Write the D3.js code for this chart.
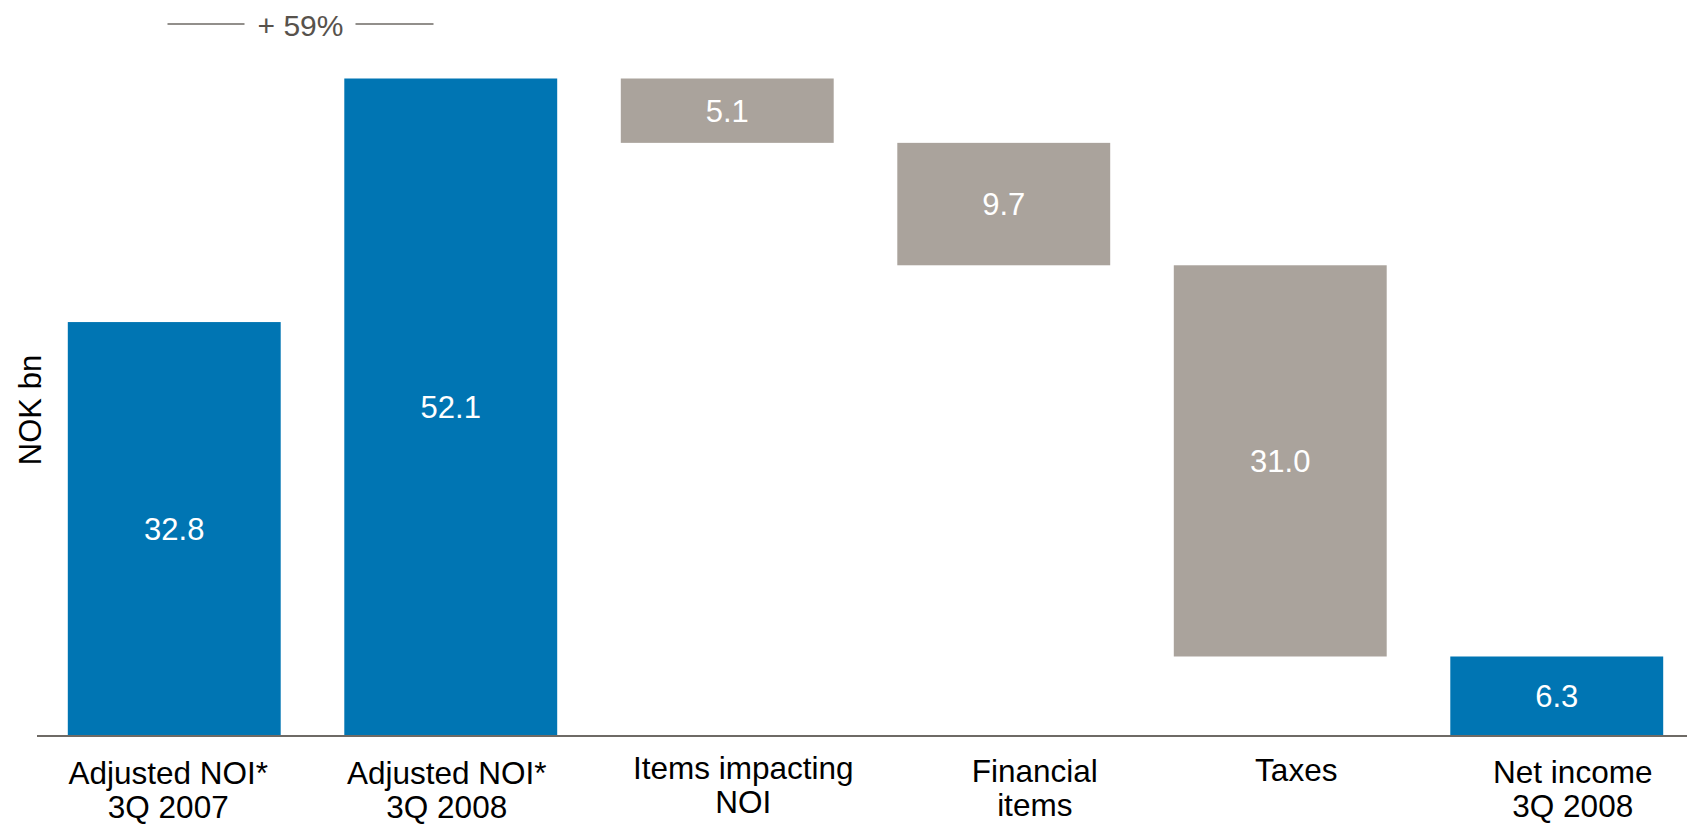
<!DOCTYPE html>
<html>
<head>
<meta charset="utf-8">
<script src="https://cdn.jsdelivr.net/npm/d3@7"></script>
<style>
  html, body { margin: 0; padding: 0; background: #fff; }
  svg { display: block; font-family: "Liberation Sans", Arial, sans-serif; }
</style>
</head>
<body>
<div id="chart"></div>
<script>
// ------------- data ---------------------------
var categories = [
    ["Adjusted NOI*", "3Q 2007"],
    ["Adjusted NOI*", "3Q 2008"],
    ["Items impacting", "NOI"],
    ["Financial", "items"],
    ["Taxes"],
    ["Net income", "3Q 2008"]
];
var values = [32.8, 52.1, -5.1, -9.7, -31.0, 6.3];
var kinds = ["total", "total", "delta", "delta", "delta", "total"];
var growthLabel = "+ 59%";
var unitLabel = "NOK bn";

var width = 1687;
var height = 825;
var baseY = 736;

// the text boxes under the bars are not all centred on their bar
var labelShiftX = [-6, -4, 16, 31, 16, 16];
var labelShiftY = [1, 1, -4, -1, -2, 0];

// running sum for the waterfall steps
var running = 0;
var bars = values.map(function (v, i) {
    var y0, y1;
    if (kinds[i] === "total") { y0 = 0; y1 = v; running = v; }
    else { y0 = running; y1 = running + v; running = y1; }
    return { i: i, v: v, kind: kinds[i], lo: Math.min(y0, y1), hi: Math.max(y0, y1) };
});

var svg = d3.select("#chart")
    .append("svg")
    .attr("width", width)
    .attr("height", height);

var x = d3.scaleBand()
    .domain(d3.range(categories.length))
    .range([36, 1695])
    .paddingInner(0.23)
    .paddingOuter(0.115);

var y = d3.scaleLinear()
    .domain([0, d3.max(bars, function (d) { return d.hi; })])
    .range([baseY, 78.5]);

// bars
svg.selectAll("rect.bar")
    .data(bars)
    .enter().append("rect")
    .attr("class", "bar")
    .attr("x", function (d) { return x(d.i); })
    .attr("width", x.bandwidth())
    .attr("y", function (d) { return y(d.hi); })
    .attr("height", function (d) { return y(d.lo) - y(d.hi); })
    .attr("fill", function (d) { return d.kind === "total" ? "#0075B3" : "#AAA39C"; });

// value labels inside bars
svg.selectAll("text.val")
    .data(bars)
    .enter().append("text")
    .attr("class", "val")
    .attr("x", function (d) { return x(d.i) + x.bandwidth() / 2; })
    .attr("y", function (d) { return (y(d.hi) + y(d.lo)) / 2; })
    .attr("dy", "0.35em")
    .attr("text-anchor", "middle")
    .attr("fill", "#fff")
    .style("font-size", "31px")
    .text(function (d) { return Math.abs(d.v).toFixed(1); });

// baseline
svg.append("line")
    .attr("x1", x.range()[0] + 1).attr("x2", width)
    .attr("y1", baseY).attr("y2", baseY)
    .attr("stroke", "#6E6A65")
    .attr("stroke-width", 2);

// category labels
var cat = svg.selectAll("text.cat")
    .data(categories)
    .enter().append("text")
    .attr("class", "cat")
    .attr("text-anchor", "middle")
    .attr("fill", "#000")
    .style("font-size", "31.5px")
    .attr("transform", function (d, i) {
        return "translate(" + (x(i) + x.bandwidth() / 2 + labelShiftX[i]) + "," + (783 + labelShiftY[i]) + ")";
    });
cat.selectAll("tspan")
    .data(function (d) { return d; })
    .enter().append("tspan")
    .attr("x", 0)
    .attr("y", function (d, j) { return j * 33.5; })
    .text(function (d) { return d; });

// unit label
svg.append("text")
    .attr("transform", "translate(41,410)rotate(-90)")
    .attr("text-anchor", "middle")
    .style("font-size", "31px")
    .attr("fill", "#000")
    .text(unitLabel);

// growth annotation between first two bars
var mid = (x(0) + x(1) + x.bandwidth()) / 2 - 12;
var gAnn = svg.append("g");
gAnn.append("line")
    .attr("x1", mid - 133).attr("x2", mid - 56)
    .attr("y1", 24).attr("y2", 24)
    .attr("stroke", "#6E6A65").attr("stroke-width", 1.5);
gAnn.append("line")
    .attr("x1", mid + 55).attr("x2", mid + 133)
    .attr("y1", 24).attr("y2", 24)
    .attr("stroke", "#6E6A65").attr("stroke-width", 1.5);
gAnn.append("text")
    .attr("x", mid)
    .attr("y", 35.5)
    .attr("text-anchor", "middle")
    .attr("fill", "#57524C")
    .style("font-size", "30px")
    .text(growthLabel);
</script>
</body>
</html>
